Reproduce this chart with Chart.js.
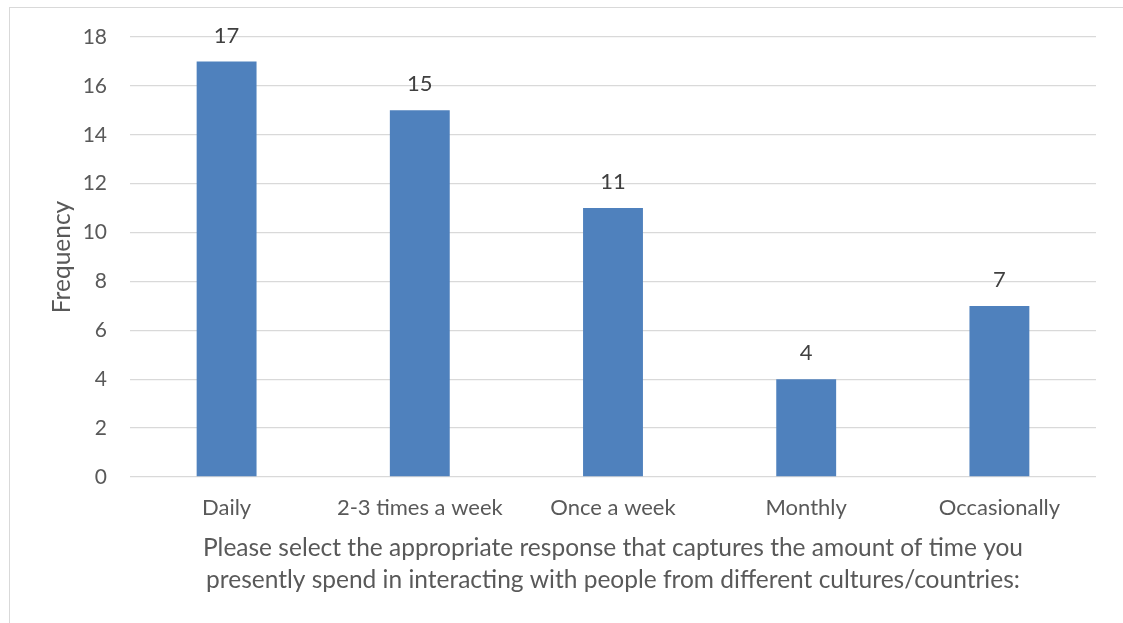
<!DOCTYPE html>
<html>
<head>
<meta charset="utf-8">
<script src="https://cdn.jsdelivr.net/npm/chart.js@4.4.1/dist/chart.umd.min.js"></script>
<style>
  html, body { margin: 0; padding: 0; background: #ffffff; }
  #wrap { position: relative; width: 1123px; height: 623px; overflow: hidden; background: #fff; }
  #frame { position: absolute; left: 9px; top: 7px; width: 1200px; height: 700px; border: 1px solid #d9d9d9; box-sizing: border-box; }
  canvas { position: absolute; left: 0; top: 0; }
</style>
</head>
<body>
<div id="wrap">
  <div id="frame"></div>
  <canvas id="chart" width="1123" height="623"></canvas>
</div>
<script>
const categories = ['Daily', '2-3 times a week', 'Once a week', 'Monthly', 'Occasionally'];
const frequency = [17, 15, 11, 4, 7];
const yTicks = [0, 2, 4, 6, 8, 10, 12, 14, 16, 18];
const xTitle = [
  'Please select the appropriate response that captures the amount of time you',
  'presently spend in interacting with people from different cultures/countries:'
];
const yTitle = 'Frequency';

const FONT = "Lato, 'Open Sans', sans-serif";

// Value labels above each bar
const barValueLabels = {
  id: 'barValueLabels',
  afterDatasetsDraw(chart) {
    const ctx = chart.ctx;
    const meta = chart.getDatasetMeta(0);
    ctx.save();
    ctx.font = '22px ' + FONT;
    ctx.fillStyle = '#404040';
    ctx.textAlign = 'center';
    ctx.textBaseline = 'middle';
    meta.data.forEach((bar, i) => {
      ctx.fillText(String(chart.data.datasets[0].data[i]), bar.x, bar.y - 26);
    });
    ctx.restore();
  }
};

new Chart(document.getElementById('chart'), {
  type: 'bar',
  data: {
    labels: categories,
    datasets: [{
      data: frequency,
      backgroundColor: '#4f81bd',
      borderWidth: 0,
      categoryPercentage: 1,
      barPercentage: 0.31
    }]
  },
  options: {
    responsive: false,
    animation: false,
    layout: { padding: { top: 37, right: 27, bottom: 0, left: 0 } },
    plugins: { legend: { display: false }, tooltip: { enabled: false } },
    scales: {
      x: {
        grid: { display: false, drawTicks: false },
        border: { display: false },
        ticks: { color: '#595959', font: { family: FONT, size: 22 }, padding: 18 },
        title: {
          display: true,
          text: xTitle,
          color: '#595959',
          font: { family: FONT, size: 24.5, lineHeight: '32px' },
          padding: { top: 6, bottom: 27 }
        },
        afterFit(scale) { scale.height = 146; }
      },
      y: {
        min: 0,
        max: 18,
        afterBuildTicks(scale) { scale.ticks = yTicks.map(v => ({ value: v })); },
        grid: { color: '#d9d9d9', lineWidth: 1.3, drawTicks: false },
        border: { display: false },
        ticks: { color: '#595959', font: { family: FONT, size: 21 }, padding: 23 },
        title: {
          display: true,
          text: yTitle,
          color: '#595959',
          font: { family: FONT, size: 24.5 },
          padding: { top: 47, bottom: 0 }
        },
        afterFit(scale) { scale.width = 130; }
      }
    }
  },
  plugins: [barValueLabels]
});
</script>
</body>
</html>
